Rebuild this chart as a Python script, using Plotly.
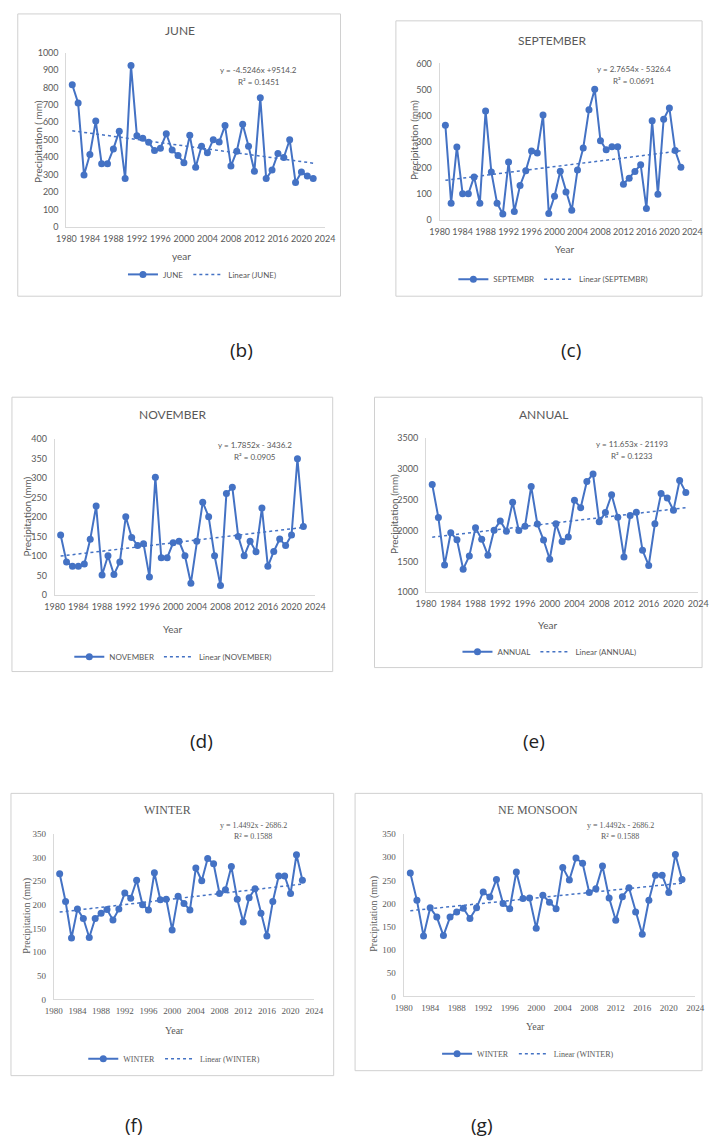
import plotly.graph_objects as go

W, H = 715, 1146
years = list(range(1981, 2023))

june = [815, 711, 298, 415, 607, 362, 362, 447, 549, 277, 925, 523, 509, 485, 438, 451, 534, 441,
        409, 368, 525, 342, 462, 425, 500, 487, 581, 349, 434, 589, 462, 319, 740, 277, 326, 421,
        398, 500, 255, 315, 292, 277]
september = [363, 64, 280, 100, 100, 165, 64, 418, 184, 64, 23, 222, 32, 132, 189, 264, 257, 402,
             25, 91, 187, 107, 37, 191, 276, 422, 501, 304, 269, 281, 281, 137, 160, 186, 212, 44,
             380, 98, 386, 429, 266, 202]
november = [154, 85, 74, 74, 80, 143, 228, 52, 101, 53, 85, 201, 148, 127, 132, 47, 302, 96,
            96, 134, 138, 101, 31, 138, 238, 201, 101, 25, 260, 276, 150, 101, 138, 111, 223, 74,
            112, 144, 127, 154, 349, 176]
annual = [2745, 2210, 1444, 1964, 1851, 1375, 1589, 2044, 1857, 1600, 2006, 2156, 1990, 2456,
          2001, 2071, 2713, 2105, 1846, 1535, 2108, 1824, 1894, 2488, 2370, 2793, 2916, 2140,
          2290, 2579, 2215, 1573, 2242, 2296, 1680, 1434, 2108, 2600, 2526, 2328, 2809, 2617]
winter = [266, 207, 130, 191, 171, 131, 171, 182, 190, 168, 191, 225, 214, 252, 200, 189, 268,
          211, 212, 147, 218, 203, 189, 278, 251, 298, 287, 224, 232, 281, 212, 164, 215, 234,
          182, 134, 207, 261, 261, 224, 306, 252]
ne_monsoon = list(winter)

titles = ["JUNE", "SEPTEMBER", "NOVEMBER", "ANNUAL", "WINTER", "NE MONSOON"]
series_names = ["JUNE", "SEPTEMBR", "NOVEMBER", "ANNUAL", "WINTER", "WINTER"]
trend_names = ["Linear (JUNE)", "Linear (SEPTEMBR)", "Linear (NOVEMBER)", "Linear (ANNUAL)",
               "Linear (WINTER)", "Linear (WINTER)"]
slopes = [-4.5246, 2.7654, 1.7852, 11.653, 1.4492, 1.4492]
intercepts = [9514.2, -5326.4, -3436.2, -21193, -2686.2, -2686.2]
eq_texts = ["y = -4.5246x +9514.2", "y = 2.7654x - 5326.4", "y = 1.7852x - 3436.2",
            "y = 11.653x - 21193", "y = 1.4492x - 2686.2", "y = 1.4492x - 2686.2"]
r2_texts = ["R² = 0.1451", "R² = 0.0691", "R² = 0.0905", "R² = 0.1233", "R² = 0.1588", "R² = 0.1588"]
ylabels = ["Precipitation ( mm)", "Precipitation (mm)", "Precipitation (mm)", "Precipitation (mm)",
           "Precipitation (mm)", "Precipitation (mm)"]
xlabels = ["year", "Year", "Year", "Year", "Year", "Year"]
yranges = [(0, 1000, 100), (0, 600, 100), (0, 400, 50), (1000, 3500, 500), (0, 350, 50), (0, 350, 50)]
panel_tags = ["(b)", "(c)", "(d)", "(e)", "(f)", "(g)"]
data = [june, september, november, annual, winter, ne_monsoon]

# layout geometry (window pixels)
plot_x = [(58, 324), (442, 702), (46, 314), (428, 708), (45, 313), (405, 705)]
plot_y = [(47, 223), (58, 216), (437, 595), (436, 592), (836, 1003), (836, 1000)]
boxes = [(8, 8, 340, 293), (397, 15, 712, 293), (2, 395, 332, 672), (375, 395, 712, 668),
         (1, 795, 333, 1080), (355, 795, 712, 1075)]
title_pos = [(175, 25), (558, 35), (167, 412), (549, 412), (162, 812), (543, 812)]
eq_pos = [(256, 65), (642, 64), (252, 443), (640, 442), (250, 827), (628, 827)]
ylab_pos = [(28, 137), (415, 135), (18, 515), (395, 513), (18, 918), (375, 917)]
xlab_pos = [(176, 252), (570, 245), (167, 629), (553, 625), (169, 1034), (541, 1030)]
leg_pos = [(198, 271), (559, 276), (168, 657), (555, 652), (169, 1063), (533, 1058)]
tag_pos = [(238, 347), (577, 347), (197, 742), (539, 742), (128, 1130), (486, 1130)]

BLUE = "#4472C4"
GRAY = "#595959"
SANS = "Lato, 'Open Sans', sans-serif"
SERIF = "'Liberation Serif', 'DejaVu Serif', serif"


def px(x):
    return x / W


def py(y):
    return 1 - y / H


fig = go.Figure()
layout = dict(width=W, height=H, margin=dict(l=0, r=0, t=0, b=0),
              paper_bgcolor="white", plot_bgcolor="white")
annotations = []
shapes = []

for i in range(6):
    n = i + 1
    xa = "x" if n == 1 else f"x{n}"
    ya = "y" if n == 1 else f"y{n}"
    lg = "legend" if n == 1 else f"legend{n}"
    font = SERIF if i >= 4 else SANS
    trend = [slopes[i] * yr + intercepts[i] for yr in years]
    fig.add_trace(go.Scatter(x=years, y=data[i], mode="lines+markers", name=series_names[i],
                             line=dict(color=BLUE, width=2), marker=dict(color=BLUE, size=7),
                             xaxis=xa, yaxis=ya, legend=lg))
    fig.add_trace(go.Scatter(x=[years[0], years[-1]], y=[trend[0], trend[-1]], mode="lines",
                             name=trend_names[i], line=dict(color=BLUE, width=1.5, dash="dot"),
                             xaxis=xa, yaxis=ya, legend=lg))
    y0, y1, dy = yranges[i]
    layout["xaxis" if n == 1 else f"xaxis{n}"] = dict(
        domain=[px(plot_x[i][0]), px(plot_x[i][1])], range=[1980, 2024], anchor=ya,
        tickmode="linear", tick0=1980, dtick=4, showgrid=False, zeroline=False,
        showline=True, linecolor="#d9d9d9", linewidth=1, ticks="", ticklabelstandoff=3,
        tickfont=dict(family=font, size=9, color=GRAY))
    layout["yaxis" if n == 1 else f"yaxis{n}"] = dict(
        domain=[py(plot_y[i][1]), py(plot_y[i][0])], range=[y0, y1], anchor=xa,
        tickmode="linear", tick0=y0, dtick=dy, showgrid=False, zeroline=False,
        showline=True, linecolor="#d9d9d9", linewidth=1, ticks="", ticklabelstandoff=5,
        tickfont=dict(family=font, size=9, color=GRAY))
    layout[lg] = dict(orientation="h", x=px(leg_pos[i][0]), y=py(leg_pos[i][1]),
                      xanchor="center", yanchor="middle", bgcolor="rgba(0,0,0,0)",
                      font=dict(family=font, size=8, color=GRAY), itemwidth=30,
                      tracegroupgap=0)
    bx0, by0, bx1, by1 = boxes[i]
    shapes.append(dict(type="rect", xref="paper", yref="paper", x0=px(bx0), x1=px(bx1),
                       y0=py(by1), y1=py(by0), line=dict(color="#d0d0d0", width=1),
                       fillcolor="rgba(0,0,0,0)", layer="below"))
    annotations.append(dict(x=px(title_pos[i][0]), y=py(title_pos[i][1]), xref="paper", yref="paper",
                            text=titles[i], showarrow=False, xanchor="center", yanchor="middle",
                            font=dict(family=font, size=12, color=GRAY)))
    annotations.append(dict(x=px(eq_pos[i][0]), y=py(eq_pos[i][1]), xref="paper", yref="paper",
                            text=eq_texts[i], showarrow=False, xanchor="center", yanchor="middle",
                            font=dict(family=font, size=8, color=GRAY)))
    annotations.append(dict(x=px(eq_pos[i][0]), y=py(eq_pos[i][1] + 12), xref="paper", yref="paper",
                            text=r2_texts[i], showarrow=False, xanchor="center", yanchor="middle",
                            font=dict(family=font, size=8, color=GRAY)))
    annotations.append(dict(x=px(ylab_pos[i][0]), y=py(ylab_pos[i][1]), xref="paper", yref="paper",
                            text=ylabels[i], showarrow=False, textangle=-90, xanchor="center",
                            yanchor="middle", font=dict(family=font, size=10, color=GRAY)))
    annotations.append(dict(x=px(xlab_pos[i][0]), y=py(xlab_pos[i][1]), xref="paper", yref="paper",
                            text=xlabels[i], showarrow=False, xanchor="center", yanchor="middle",
                            font=dict(family=font, size=10, color=GRAY)))
    annotations.append(dict(x=px(tag_pos[i][0]), y=py(tag_pos[i][1]), xref="paper", yref="paper",
                            text=panel_tags[i], showarrow=False, xanchor="center", yanchor="middle",
                            font=dict(family="'Open Sans', sans-serif", size=19, color="#222222")))

layout["annotations"] = annotations
layout["shapes"] = shapes
fig.update_layout(**layout)
fig.write_html("out.html", config={"displayModeBar": False},
               post_script="document.body.style.margin='0';document.body.style.overflow='hidden';")
